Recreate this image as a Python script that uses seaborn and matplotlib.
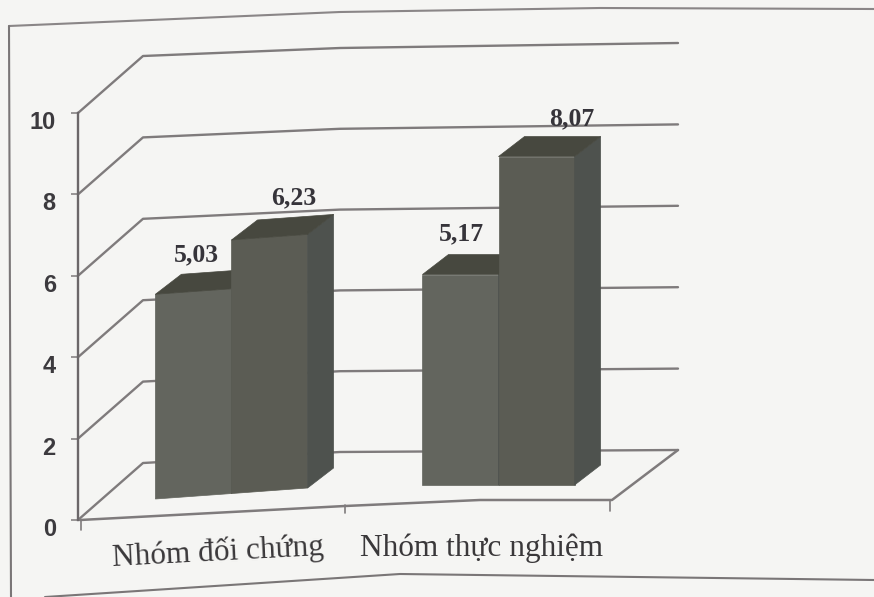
import numpy as np
import pandas as pd
import matplotlib
matplotlib.use("Agg")
import matplotlib.pyplot as plt
from matplotlib.patches import Polygon
from matplotlib.transforms import Affine2D, IdentityTransform
import seaborn as sns

groups = ["Nhóm đối chứng", "Nhóm thực nghiệm"]
phases = ["Trước", "Sau"]
before = [5.03, 5.17]
after = [6.23, 8.07]
value_labels = ["5,03", "6,23", "5,17", "8,07"]
y_ticks = [0, 2, 4, 6, 8, 10]

W, H = 874, 597
PAPER = "#f5f5f3"
LINE = "#7f7b7c"
FRONTS = ["#63655e", "#5b5c54"]
SIDE = "#4e524e"
TOP = "#47483f"
DEPTH = (26, 20)

sns.set_theme(style="white")
plt.rcParams["font.family"] = ["Liberation Serif", "DejaVu Sans"]

df = pd.DataFrame({
    "group": groups * 2,
    "phase": [phases[0]] * 2 + [phases[1]] * 2,
    "score": before + after,
})

fig = plt.figure(figsize=(W / 100, H / 100), dpi=100, facecolor=PAPER)
ax = fig.add_axes([78 / W, (H - 520) / H, 534 / W, 407 / H], facecolor="none")
sns.barplot(data=df, x="group", y="score", hue="phase", hue_order=phases,
            palette=FRONTS, width=0.57, gap=0, saturation=1,
            legend=False, ax=ax)
ax.set_xlim(-0.5, 1.5)
ax.set_ylim(0, 10)
ax.set_xlabel("")
ax.set_ylabel("")


def line(xs, ys, color=LINE, lw=1.7, z=1):
    ax.plot(xs, H - np.asarray(ys, dtype=float), color=color, lw=lw, zorder=z,
            transform=IdentityTransform(), clip_on=False, solid_capstyle="round")


# paper frame, part of the photographed page
line([9, 340, 600, 874], [26, 12, 8, 9], color="#8a8687", lw=1.5)
line([9, 11], [26, 597], color="#7a7677", lw=1.5)
line([45, 400, 874], [597, 574, 580], color="#7a7677", lw=1.5)

# walls and floor of the 3d box
for v in y_ticks:
    fx, fy = ax.transData.transform((-0.5, v))
    left = H - fy - 57
    mid = left - (11 - 0.3 * v)
    line([fx, 143, 340, 678], [H - fy, left, mid, left - 13])
line([80, 345, 480, 612, 678], [520, 506, 500, 500, 450], lw=1.8)
for x0, y0, y1 in [(81, 520, 530), (345, 505, 513), (610, 500, 511)]:
    line([x0, x0], [y0, y1], lw=1.2)

# bars sit in the middle of the box, and the page bends under them
floor_x = [157, 307, 421, 575]
floor_y = [499, 488, 485, 485]
bars = sorted(ax.patches, key=lambda p: p.get_x())
for i, bar in enumerate(bars):
    x0 = bar.get_x()
    x1 = x0 + bar.get_width()
    (d0, base), (d1, _) = ax.transData.transform([(x0, 0), (x1, 0)])
    dx = 20
    y_left = H - np.interp(d0 + dx, floor_x, floor_y)
    y_right = H - np.interp(d1 + dx, floor_x, floor_y)
    k = (y_right - y_left) / (d1 - d0)
    shift = Affine2D(np.array([[1, 0, dx],
                               [k, 1, y_left - base - k * d0],
                               [0, 0, 1]]))
    placed = ax.transData + shift
    bar.set_transform(placed)
    bar.set_clip_on(False)
    bar.set_zorder(3 + i)
    bar.set_edgecolor(bar.get_facecolor())
    bar.set_linewidth(0.5)
    h = bar.get_height()
    bl, br, tr, tl = placed.transform([(x0, 0), (x1, 0), (x1, h), (x0, h)])
    dp = np.array(DEPTH)
    ax.add_patch(Polygon([br, br + dp, tr + dp, tr], closed=True, fc=SIDE, ec=SIDE, lw=0.5,
                         transform=IdentityTransform(), zorder=3 + i, clip_on=False))
    ax.add_patch(Polygon([tl, tr, tr + dp, tl + dp], closed=True, fc=TOP, ec=TOP, lw=0.5,
                         transform=IdentityTransform(), zorder=3 + i, clip_on=False))
    off = [(41, 39), (62, 42), (39, 41), (73, 38)][i]
    ax.text(tl[0] + off[0], tl[1] + off[1], value_labels[i], fontsize=18.5, fontweight="bold",
            color="#36343a", ha="center", va="center", transform=IdentityTransform(),
            zorder=20, clip_on=False)

# axes
sns.despine(ax=ax, left=False, bottom=True)
ax.spines["left"].set_color("#6b6769")
ax.spines["left"].set_linewidth(1.7)
ax.spines["left"].set_zorder(2)
ax.set_yticks(y_ticks)
ax.tick_params(axis="y", length=5, width=1.1, color=LINE, pad=11, left=True)
for lab in ax.get_yticklabels():
    lab.set_fontfamily(["Liberation Sans"])
    lab.set_fontweight("bold")
    lab.set_fontsize(17)
    lab.set_color("#3c3a3e")
    lab.set_transform(lab.get_transform() + Affine2D().translate(0, -7))
ax.tick_params(axis="x", length=0, pad=14)
for lab, (dx, dy, rot) in zip(ax.get_xticklabels(), [(6, 2, 3), (3, 6, 0)]):
    lab.set_fontsize(22.5)
    lab.set_color("#3a383a")
    lab.set_rotation(rot)
    lab.set_rotation_mode("anchor")
    lab.set_transform(lab.get_transform() + Affine2D().translate(dx, dy))

fig.savefig("out.png", dpi=100, facecolor=PAPER)
